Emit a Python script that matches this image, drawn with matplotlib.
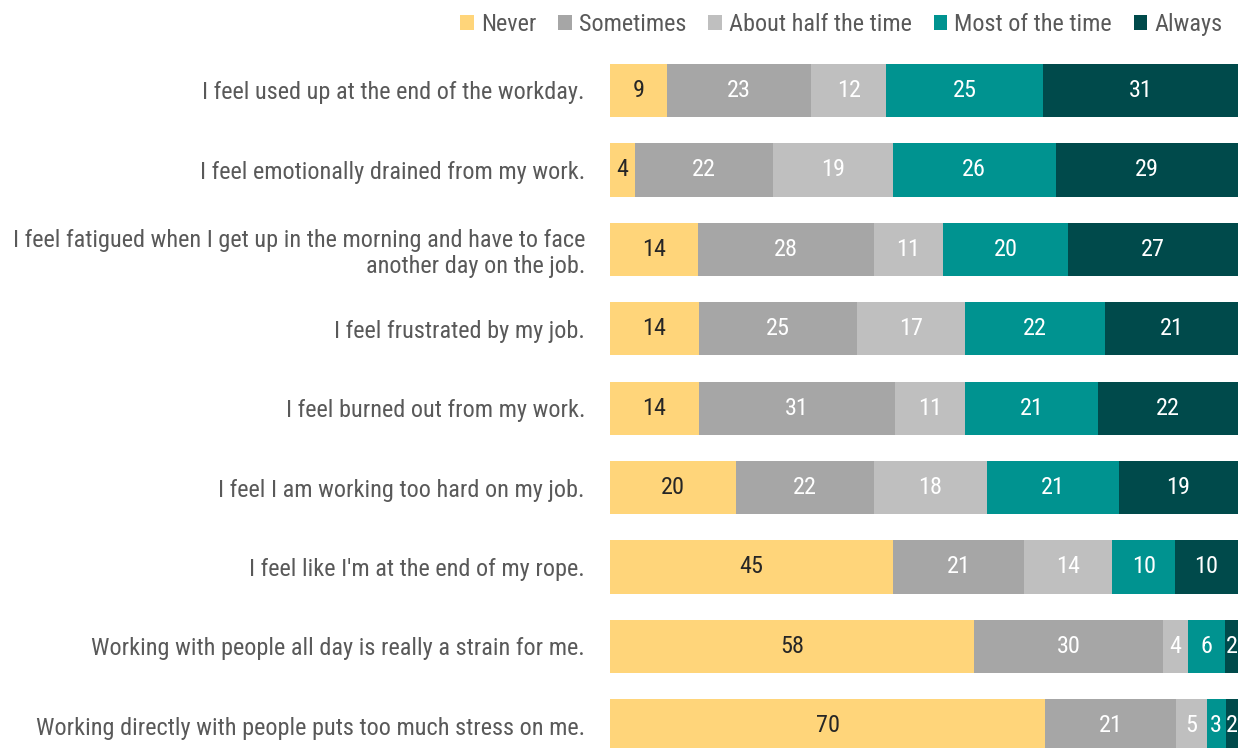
import matplotlib
matplotlib.use("Agg")
import matplotlib.pyplot as plt
from matplotlib.patches import Patch

statements = [
    "I feel used up at the end of the workday.",
    "I feel emotionally drained from my work.",
    "I feel fatigued when I get up in the morning and have to face\nanother day on the job.",
    "I feel frustrated by my job.",
    "I feel burned out from my work.",
    "I feel I am working too hard on my job.",
    "I feel like I'm at the end of my rope.",
    "Working with people all day is really a strain for me.",
    "Working directly with people puts too much stress on me.",
]
answers = ["Never", "Sometimes", "About half the time", "Most of the time", "Always"]
never = [9, 4, 14, 14, 14, 20, 45, 58, 70]
sometimes = [23, 22, 28, 25, 31, 22, 21, 30, 21]
about_half = [12, 19, 11, 17, 11, 18, 14, 4, 5]
most = [25, 26, 20, 22, 21, 21, 10, 6, 3]
always = [31, 29, 27, 21, 22, 19, 10, 2, 2]

COLORS = ["#FFD57A", "#A6A6A6", "#BFBFBF", "#009390", "#004A4B"]
LABEL_COLORS = ["#262626", "white", "white", "white", "white"]
TEXT_GRAY = "#595959"
FONT_SIZE = 17.5

plt.rcParams["font.family"] = ["Roboto Condensed", "Archivo Narrow", "DejaVu Sans"]

fig = plt.figure(figsize=(12.47, 7.48), dpi=100)
ax = fig.add_axes([610 / 1247, 0, 628 / 1247, 698 / 748])

series = [never, sometimes, about_half, most, always]
totals = [sum(col) for col in zip(*series)]
rows = list(range(len(statements)))
left = [0.0] * len(statements)
for values, color, label_color in zip(series, COLORS, LABEL_COLORS):
    # stacked to 100% per row (rounded values do not always add to exactly 100)
    widths = [v / t * 100 for v, t in zip(values, totals)]
    bars = ax.barh(rows, widths, left=left, height=0.67, color=color, linewidth=0)
    for rect, v in zip(bars, values):
        ax.text(rect.get_x() + rect.get_width() / 2, rect.get_y() + rect.get_height() / 2,
                str(v), ha="center", va="center", color=label_color, fontsize=FONT_SIZE)
    left = [a + b for a, b in zip(left, widths)]

ax.set_xlim(0, 100)
ax.set_ylim(8.28, -0.51)
ax.set_yticks(rows)
ax.set_yticklabels(statements, fontsize=FONT_SIZE, color=TEXT_GRAY, ha="right", linespacing=1.15)
ax.tick_params(axis="y", length=0, pad=18)
ax.set_xticks([])
for spine in ax.spines.values():
    spine.set_visible(False)

handles = [Patch(facecolor=c, edgecolor="none") for c in COLORS]
leg = fig.legend(handles, answers, loc="upper right", bbox_to_anchor=(0.998, 1.012), ncol=5,
                 frameon=False, fontsize=FONT_SIZE, handlelength=0.55, handleheight=0.55,
                 handletextpad=0.3, columnspacing=0.9)
for t in leg.get_texts():
    t.set_color(TEXT_GRAY)

fig.savefig("out.png", dpi=100)
